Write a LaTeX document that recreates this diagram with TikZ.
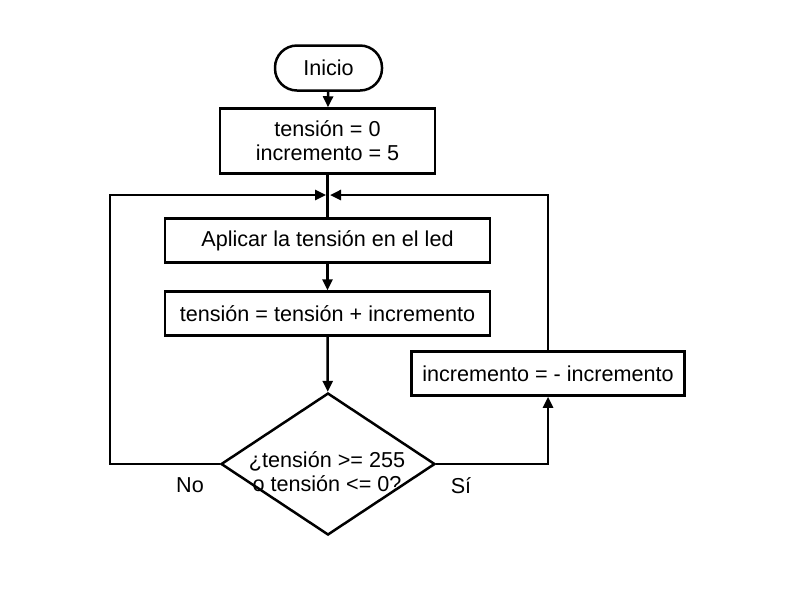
\documentclass[tikz,border=0pt]{standalone}
\usepackage{fontspec}
\setmainfont{Liberation Sans}
\usepackage{tikz}
\usepackage{xcolor}
\usetikzlibrary{arrows.meta,shapes.geometric}
\colorlet{fc_line}{black}
\colorlet{fc_fill}{white}
\tikzset{
    base/.style={draw=fc_line,fill=fc_fill,line width=1.25pt,font=\fontsize{10.8}{12}\selectfont,align=center,inner sep=0pt},
    terminal/.style={base,rectangle,rounded corners=11pt,minimum width=53.5pt,minimum height=22.5pt},
    process/.style={base,rectangle,minimum height=22pt},
    decision/.style={base,diamond,minimum width=107pt,minimum height=71pt},
    flow/.style={-{Triangle[length=5.5pt,width=5pt]},line width=1.25pt,draw=fc_line},
    plain/.style={line width=1.25pt,draw=fc_line},
    branch/.style={font=\fontsize{10.8}{12}\selectfont},
}

\begin{document}
\begin{tikzpicture}[x=0.5pt,y=-0.5pt]
  \useasboundingbox (0,0) rectangle (796,607);
  \node[terminal] (inicio) at (328.5,68) {Inicio};
  \node[process,minimum width=107.5pt,minimum height=32.5pt] (init) at (327.5,141) {tensión = 0\\incremento = 5};
  \node[process,minimum width=162.5pt] (apply) at (327.5,240.5) {Aplicar la tensión en el led};
  \node[process,minimum width=162.5pt] (update) at (327.5,313.5) {tensión = tensión + incremento};
  \node[decision] (check) at (328,464) {};
  \node[branch,align=center] (checktxt) at (327,472) {¿tensión >= 255\\o tensión <= 0?};
  \node[process,minimum width=136.5pt] (negate) at (548,373.5) {incremento = - incremento};
  \coordinate (merge) at (328,195);
  \coordinate (loopl) at (110,195);
  \node[branch] (no) at (190,485) {No};
  \node[branch] (si) at (461,486) {Sí};
  \draw[flow] (inicio) -- (init);
  \draw[plain] (init) -- (apply);
  \draw[flow] (apply) -- (update);
  \draw[flow] (update) -- (check);
  \draw[flow,shorten >=1pt] (check.west) -| (loopl) -- (merge);
  \draw[flow] (check.east) -| (negate.south);
  \draw[flow,shorten >=1pt] (negate.north) |- (merge);
\end{tikzpicture}
\end{document}
